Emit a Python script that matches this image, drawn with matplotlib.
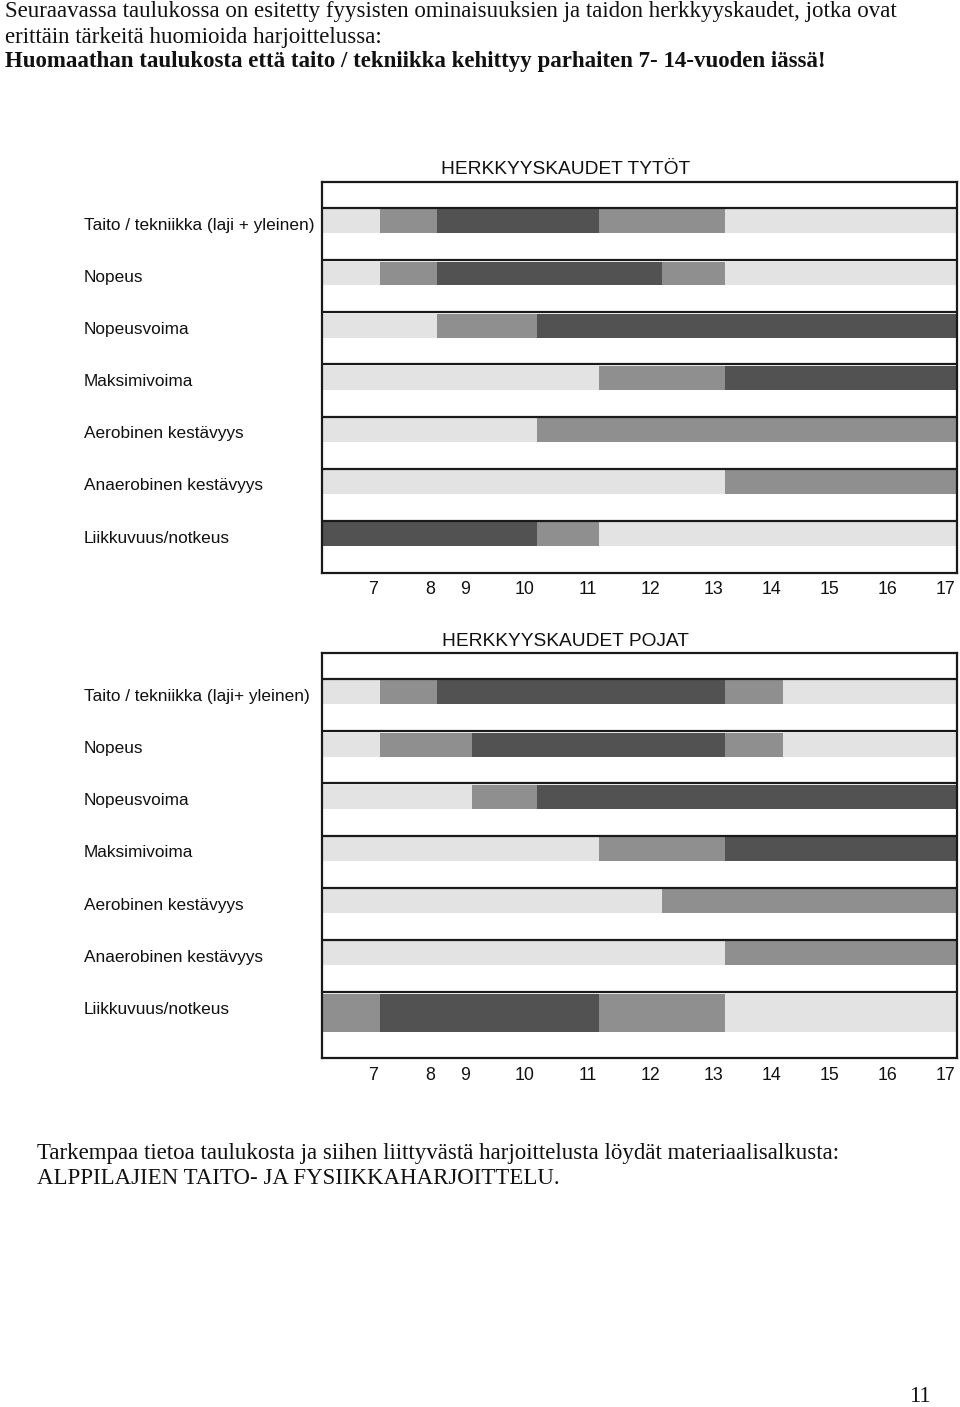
import matplotlib
matplotlib.use("Agg")
import matplotlib.pyplot as plt
from matplotlib import transforms

# ---------------- data ----------------
ages = ["7", "8", "9", "10", "11", "12", "13", "14", "15", "16", "17"]

girls_title = "HERKKYYSKAUDET TYTÖT"
girls_categories = ["Taito / tekniikka (laji + yleinen)", "Nopeus", "Nopeusvoima",
                    "Maksimivoima", "Aerobinen kestävyys", "Anaerobinen kestävyys",
                    "Liikkuvuus/notkeus"]
# sensitivity level per age: 0 = low (light), 1 = medium, 2 = high (dark)
girls_levels = [
    [0, 1, 2, 2, 2, 1, 1, 0, 0, 0, 0],
    [0, 1, 2, 2, 2, 2, 1, 0, 0, 0, 0],
    [0, 0, 1, 1, 2, 2, 2, 2, 2, 2, 2],
    [0, 0, 0, 0, 0, 1, 1, 2, 2, 2, 2],
    [0, 0, 0, 0, 1, 1, 1, 1, 1, 1, 1],
    [0, 0, 0, 0, 0, 0, 0, 1, 1, 1, 1],
    [2, 2, 2, 2, 1, 0, 0, 0, 0, 0, 0],
]

boys_title = "HERKKYYSKAUDET POJAT"
boys_categories = ["Taito / tekniikka (laji+ yleinen)", "Nopeus", "Nopeusvoima",
                   "Maksimivoima", "Aerobinen kestävyys", "Anaerobinen kestävyys",
                   "Liikkuvuus/notkeus"]
boys_levels = [
    [0, 1, 2, 2, 2, 2, 2, 1, 0, 0, 0],
    [0, 1, 1, 2, 2, 2, 2, 1, 0, 0, 0],
    [0, 0, 0, 1, 2, 2, 2, 2, 2, 2, 2],
    [0, 0, 0, 0, 0, 1, 1, 2, 2, 2, 2],
    [0, 0, 0, 0, 0, 0, 1, 1, 1, 1, 1],
    [0, 0, 0, 0, 0, 0, 0, 1, 1, 1, 1],
    [1, 2, 2, 2, 2, 1, 1, 0, 0, 0, 0],
]

header_lines = ["Seuraavassa taulukossa on esitetty fyysisten ominaisuuksien ja taidon herkkyyskaudet, jotka ovat",
                "erittäin tärkeitä huomioida harjoittelussa:"]
header_bold = "Huomaathan taulukosta että taito / tekniikka kehittyy parhaiten 7- 14-vuoden iässä!"
footer_lines = ["Tarkempaa tietoa taulukosta ja siihen liittyvästä harjoittelusta löydät materiaalisalkusta:",
                "ALPPILAJIEN TAITO- JA FYSIIKKAHARJOITTELU."]
page_number = "11"

# ---------------- layout / style ----------------
level_colors = ["#e3e3e3", "#8f8f8f", "#525252"]
col_widths = [58, 57, 35, 65, 62, 63, 63, 58, 58, 58, 58]   # table column widths (px)
W, H = 960, 1407
SANS = ["Liberation Sans", "DejaVu Sans"]
SERIF = ["Liberation Serif", "DejaVu Serif"]
SERIF_SIZE = 16.5

fig = plt.figure(figsize=(W / 100, H / 100), dpi=100)
fig.patch.set_facecolor("white")


def fx(px):
    return px / W


def fy(py):
    return 1 - py / H


col_edges = [0]
for w in col_widths:
    col_edges.append(col_edges[-1] + w)


def draw_table(top_px, bottom_px, title, title_y, categories, levels,
               row_heights, bar_heights, tick_y):
    total = col_edges[-1]
    ax = fig.add_axes([fx(322), fy(bottom_px), fx(957) - fx(322), (bottom_px - top_px) / H])
    y_top = -0.5
    y_bottom = sum(row_heights)
    ax.set_xlim(0, total)
    ax.set_ylim(y_bottom, y_top)
    ax.set_xticks([])
    ax.set_yticks([])
    for sp in ax.spines.values():
        sp.set_linewidth(1.6)
        sp.set_color("#1a1a1a")
    y = 0.0
    trans_lab = transforms.blended_transform_factory(fig.transFigure, ax.transData)
    for r, (cat, lev) in enumerate(zip(categories, levels)):
        ax.axhline(y, color="#1a1a1a", lw=1.6, zorder=3)
        start = 0
        for i in range(1, len(lev) + 1):
            if i == len(lev) or lev[i] != lev[start]:
                ax.barh(y + 0.025, col_edges[i] - col_edges[start], left=col_edges[start],
                        height=bar_heights[r], align="edge",
                        color=level_colors[lev[start]], linewidth=0, zorder=2)
                start = i
        ax.text(fx(84), y + 0.33, cat, transform=trans_lab, ha="left", va="center",
                fontsize=12.4, family=SANS, color="#111111")
        y += row_heights[r]
    fig.text(fx(566), fy(title_y), title, ha="center", va="center",
             fontsize=13.8, family=SANS, color="#111111")
    off_y = -(tick_y - bottom_px) * 72 / 100
    for i, a in enumerate(ages):
        ax.annotate(a, xy=(col_edges[i + 1], 0), xycoords=("data", "axes fraction"),
                    xytext=(-1.5, off_y), textcoords="offset points",
                    ha="right", va="center", fontsize=12.8, family=SANS, color="#111111",
                    annotation_clip=False)
    return ax


ax1 = draw_table(182, 573, girls_title, 170, girls_categories, girls_levels,
                 [1] * 7, [0.46] * 7, 590)
ax2 = draw_table(653, 1058, boys_title, 641, boys_categories, boys_levels,
                 [1] * 6 + [1.26], [0.46] * 6 + [0.73], 1076)

# header & footer text
fig.text(fx(5), fy(12), header_lines[0], ha="left", va="center", fontsize=SERIF_SIZE,
         family=SERIF, color="#111111")
fig.text(fx(5), fy(37), header_lines[1], ha="left", va="center", fontsize=SERIF_SIZE,
         family=SERIF, color="#111111")
fig.text(fx(5), fy(62), header_bold, ha="left", va="center", fontsize=SERIF_SIZE,
         family=SERIF, weight="bold", color="#111111")
fig.text(fx(37), fy(1153), footer_lines[0], ha="left", va="center", fontsize=SERIF_SIZE,
         family=SERIF, color="#111111")
fig.text(fx(37), fy(1179), footer_lines[1], ha="left", va="center", fontsize=SERIF_SIZE,
         family=SERIF, color="#111111")
fig.text(fx(931), fy(1397), page_number, ha="right", va="center", fontsize=SERIF_SIZE,
         family=SERIF, color="#111111")

fig.savefig("out.png", dpi=100, facecolor="white")
